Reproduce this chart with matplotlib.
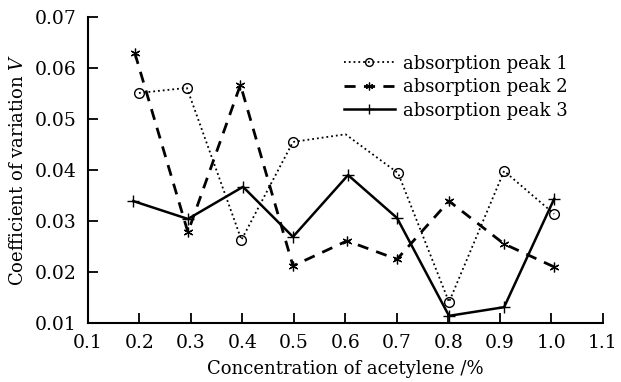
import matplotlib.pyplot as plt
import numpy as np

# data
x1 = [0.199, 0.292, 0.398, 0.498, 0.60, 0.702, 0.801, 0.908, 1.005]
peak1 = [0.0551, 0.0561, 0.0263, 0.0455, 0.047, 0.0394, 0.0141, 0.0398, 0.0314]
x2 = [0.191, 0.294, 0.396, 0.498, 0.603, 0.700, 0.801, 0.908, 1.005]
peak2 = [0.0629, 0.0278, 0.0567, 0.0212, 0.0261, 0.0225, 0.0339, 0.0255, 0.0210]
x3 = [0.188, 0.294, 0.401, 0.498, 0.605, 0.700, 0.801, 0.908, 1.005]
peak3 = [0.0339, 0.0304, 0.0367, 0.0269, 0.0390, 0.0306, 0.0114, 0.0131, 0.0343]
xticks = [0.1, 0.2, 0.3, 0.4, 0.5, 0.6, 0.7, 0.8, 0.9, 1.0, 1.1]
yticks = [0.01, 0.02, 0.03, 0.04, 0.05, 0.06, 0.07]

plt.rcParams['font.family'] = 'DejaVu Serif'
plt.rcParams['mathtext.fontset'] = 'dejavuserif'

fig = plt.figure(figsize=(6.21, 3.82), dpi=100)
ax = fig.add_axes([0.1417, 0.1545, 0.8293, 0.801])

ax.plot(x1, peak1, color='black', linestyle=':', linewidth=1.3, marker='o',
        markersize=7, markerfacecolor='none', markeredgewidth=1.0,
        markevery=[0, 1, 2, 3, 5, 6, 7, 8], label='absorption peak 1')
ax.plot(x2, peak2, color='black', linestyle=(0, (4, 3)), linewidth=2.0,
        marker=(6, 2, 0), markersize=7, markeredgewidth=0.9,
        label='absorption peak 2')
ax.plot(x3, peak3, color='black', linestyle='-', linewidth=1.8, marker='+',
        markersize=9, markeredgewidth=1.0, label='absorption peak 3')

ax.set_xlim(0.1, 1.1)
ax.set_ylim(0.01, 0.07)
ax.set_xticks(xticks)
ax.set_xticklabels(['%.1f' % v for v in xticks])
ax.set_yticks(yticks)
ax.set_yticklabels(['%.2f' % v for v in yticks])
ax.tick_params(direction='in', length=7, width=1.3, labelsize=13.5)
ax.tick_params(axis='x', pad=8)
ax.tick_params(axis='y', pad=8)
ax.spines['top'].set_visible(False)
ax.spines['right'].set_visible(False)
ax.spines['left'].set_linewidth(1.5)
ax.spines['bottom'].set_linewidth(1.5)

ax.set_xlabel('Concentration of acetylene /%', fontsize=13, labelpad=6)
ax.set_ylabel('Coefficient of variation $V$', fontsize=13, labelpad=6)

leg = ax.legend(loc='upper right', bbox_to_anchor=(0.945, 0.90),
                borderaxespad=0, frameon=False, fontsize=13, handlelength=2.8,
                handletextpad=0.45, labelspacing=0.3, markerscale=0.8)

plt.savefig('out.png', dpi=100)
